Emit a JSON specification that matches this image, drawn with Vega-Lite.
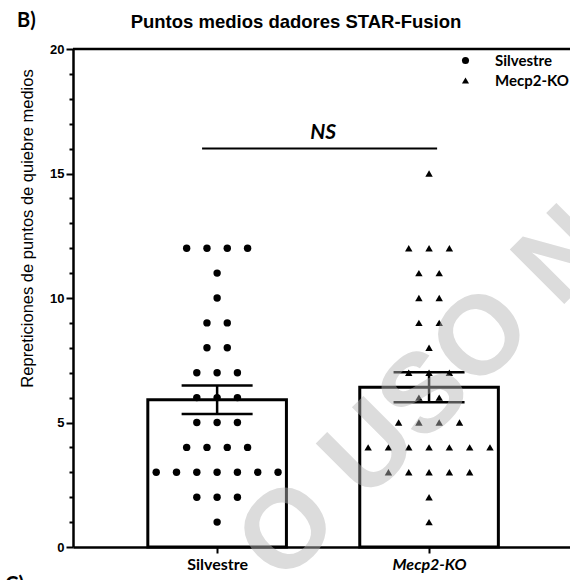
{
  "$schema": "https://vega.github.io/schema/vega-lite/v6.json",
  "autosize": {"type": "none"},
  "padding": {"left": 73, "top": 49, "right": 0, "bottom": 33},
  "width": 497,
  "height": 498,
  "background": "white",
  "config": {"view": {"stroke": null}},
  "datasets": {
    "puntos": [
    {"grupo": "Silvestre", "valor": 12}, {"grupo": "Silvestre", "valor": 12}, {"grupo": "Silvestre", "valor": 12}, {"grupo": "Silvestre", "valor": 12},
    {"grupo": "Silvestre", "valor": 11},
    {"grupo": "Silvestre", "valor": 10},
    {"grupo": "Silvestre", "valor": 9}, {"grupo": "Silvestre", "valor": 9},
    {"grupo": "Silvestre", "valor": 8}, {"grupo": "Silvestre", "valor": 8},
    {"grupo": "Silvestre", "valor": 7}, {"grupo": "Silvestre", "valor": 7}, {"grupo": "Silvestre", "valor": 7},
    {"grupo": "Silvestre", "valor": 6}, {"grupo": "Silvestre", "valor": 6}, {"grupo": "Silvestre", "valor": 6},
    {"grupo": "Silvestre", "valor": 5}, {"grupo": "Silvestre", "valor": 5}, {"grupo": "Silvestre", "valor": 5},
    {"grupo": "Silvestre", "valor": 4}, {"grupo": "Silvestre", "valor": 4}, {"grupo": "Silvestre", "valor": 4}, {"grupo": "Silvestre", "valor": 4},
    {"grupo": "Silvestre", "valor": 3}, {"grupo": "Silvestre", "valor": 3}, {"grupo": "Silvestre", "valor": 3}, {"grupo": "Silvestre", "valor": 3}, {"grupo": "Silvestre", "valor": 3}, {"grupo": "Silvestre", "valor": 3}, {"grupo": "Silvestre", "valor": 3},
    {"grupo": "Silvestre", "valor": 2}, {"grupo": "Silvestre", "valor": 2}, {"grupo": "Silvestre", "valor": 2},
    {"grupo": "Silvestre", "valor": 1},
    {"grupo": "Mecp2-KO", "valor": 15},
    {"grupo": "Mecp2-KO", "valor": 12}, {"grupo": "Mecp2-KO", "valor": 12}, {"grupo": "Mecp2-KO", "valor": 12},
    {"grupo": "Mecp2-KO", "valor": 11}, {"grupo": "Mecp2-KO", "valor": 11},
    {"grupo": "Mecp2-KO", "valor": 10}, {"grupo": "Mecp2-KO", "valor": 10},
    {"grupo": "Mecp2-KO", "valor": 9}, {"grupo": "Mecp2-KO", "valor": 9},
    {"grupo": "Mecp2-KO", "valor": 8},
    {"grupo": "Mecp2-KO", "valor": 7}, {"grupo": "Mecp2-KO", "valor": 7}, {"grupo": "Mecp2-KO", "valor": 7},
    {"grupo": "Mecp2-KO", "valor": 6}, {"grupo": "Mecp2-KO", "valor": 6},
    {"grupo": "Mecp2-KO", "valor": 5}, {"grupo": "Mecp2-KO", "valor": 5}, {"grupo": "Mecp2-KO", "valor": 5}, {"grupo": "Mecp2-KO", "valor": 5},
    {"grupo": "Mecp2-KO", "valor": 4}, {"grupo": "Mecp2-KO", "valor": 4}, {"grupo": "Mecp2-KO", "valor": 4}, {"grupo": "Mecp2-KO", "valor": 4}, {"grupo": "Mecp2-KO", "valor": 4}, {"grupo": "Mecp2-KO", "valor": 4}, {"grupo": "Mecp2-KO", "valor": 4},
    {"grupo": "Mecp2-KO", "valor": 3}, {"grupo": "Mecp2-KO", "valor": 3}, {"grupo": "Mecp2-KO", "valor": 3}, {"grupo": "Mecp2-KO", "valor": 3}, {"grupo": "Mecp2-KO", "valor": 3},
    {"grupo": "Mecp2-KO", "valor": 2},
    {"grupo": "Mecp2-KO", "valor": 1}
    ],
    "uno": [{"n": 1}]
  },
  "layer": [
    {
      "data": {"name": "puntos"},
      "transform": [
        {"calculate": "datum.grupo == 'Silvestre' ? 1 : 2", "as": "pos"},
        {"aggregate": [{"op": "mean", "field": "valor", "as": "media"}], "groupby": ["grupo", "pos"]},
        {"calculate": "datum.pos - 0.327", "as": "x0"},
        {"calculate": "datum.pos + 0.327", "as": "x1"}
      ],
      "mark": {"type": "rect", "fill": "white", "stroke": "black", "strokeWidth": 3},
      "encoding": {
        "x": {"field": "x0", "type": "quantitative", "scale": {"domain": [0.32, 2.665], "nice": false, "zero": false},
          "axis": {"values": [1, 2], "title": null, "grid": false,
            "labelExpr": "datum.value == 1 ? 'Silvestre' : 'Mecp2-KO'",
            "labelFont": "Lato", "labelFontSize": 16, "labelFontWeight": "bold", "labelColor": "black",
            "labelFontStyle": {"condition": {"test": "datum.value == 2", "value": "italic"}, "value": "normal"},
            "labelPadding": 3,
            "domainColor": "black", "domainWidth": 2.5, "tickColor": "black", "tickWidth": 2, "tickSize": 6}},
        "x2": {"field": "x1"},
        "y": {"field": "media", "type": "quantitative", "scale": {"domain": [0, 20], "nice": false},
          "axis": {"values": [0, 5, 10, 15, 20], "grid": false,
            "title": "Repreticiones de puntos de quiebre medios",
            "titleFont": "Liberation Sans", "titleFontSize": 16.5, "titleFontWeight": "normal", "titleColor": "black",
            "titleX": -38, "titleY": 179, "titleAngle": -90, "titleAlign": "center", "titleBaseline": "bottom",
            "labelFont": "Liberation Sans", "labelFontSize": 13, "labelFontWeight": "bold", "labelColor": "black", "labelPadding": 2,
            "domainColor": "black", "domainWidth": 2.5, "tickColor": "black", "tickWidth": 2, "tickSize": 7}},
        "y2": {"datum": 0}
      }
    },
    {
      "data": {"name": "puntos"},
      "transform": [
        {"calculate": "datum.grupo == 'Silvestre' ? 1 : 2", "as": "pos"},
        {"window": [{"op": "row_number", "as": "k"}, {"op": "count", "as": "n"}], "groupby": ["grupo", "valor"], "frame": [null, null]},
        {"calculate": "datum.pos + (datum.k - (datum.n + 1) / 2) * 0.0958", "as": "xj"}
      ],
      "mark": {"type": "point", "filled": true, "color": "black", "opacity": 1, "size": 55},
      "encoding": {
        "x": {"field": "xj", "type": "quantitative"},
        "y": {"field": "valor", "type": "quantitative",
          "axis": {"orient": "left", "values": [1,2,3,4,6,7,8,9,11,12,13,14,16,17,18,19], "labels": false, "domain": false, "title": null, "grid": false,
            "tickColor": "black", "tickWidth": 2, "tickSize": 4}},
        "shape": {"field": "grupo", "type": "nominal",
          "scale": {"domain": ["Silvestre", "Mecp2-KO"], "range": ["circle", "triangle-up"]},
          "legend": {"orient": "none", "legendX": 385, "legendY": 4, "title": null, "padding": 0,
            "labelFont": "Lato", "labelFontSize": 15, "labelFontWeight": "bold", "labelColor": "black", "labelOffset": 22,
            "symbolSize": 50, "symbolFillColor": "black", "symbolStrokeColor": "black", "rowPadding": 4,
            "encode": {"labels": {"update": {"fontStyle": {"signal": "datum.value == 'Mecp2-KO' ? 'italic' : 'normal'"}}}}}}
      }
    },
    {
      "data": {"name": "puntos"},
      "transform": [
        {"calculate": "datum.grupo == 'Silvestre' ? 1 : 2", "as": "pos"},
        {"aggregate": [{"op": "mean", "field": "valor", "as": "media"}, {"op": "stderr", "field": "valor", "as": "ee"}], "groupby": ["grupo", "pos"]},
        {"calculate": "datum.media - datum.ee", "as": "lo"},
        {"calculate": "datum.media + datum.ee", "as": "hi"}
      ],
      "mark": {"type": "rule", "color": "black", "strokeWidth": 2.5},
      "encoding": {
        "x": {"field": "pos", "type": "quantitative"},
        "y": {"field": "lo", "type": "quantitative", "axis": null},
        "y2": {"field": "hi"}
      }
    },
    {
      "data": {"name": "puntos"},
      "transform": [
        {"calculate": "datum.grupo == 'Silvestre' ? 1 : 2", "as": "pos"},
        {"aggregate": [{"op": "mean", "field": "valor", "as": "media"}, {"op": "stderr", "field": "valor", "as": "ee"}], "groupby": ["grupo", "pos"]},
        {"fold": ["media", "ee"], "as": ["lado", "dummy"]},
        {"calculate": "datum.lado == 'media' ? datum.media - datum.ee : datum.media + datum.ee", "as": "yc"},
        {"calculate": "datum.pos - 0.1675", "as": "c0"},
        {"calculate": "datum.pos + 0.1675", "as": "c1"}
      ],
      "mark": {"type": "rule", "color": "black", "strokeWidth": 2.5},
      "encoding": {
        "x": {"field": "c0", "type": "quantitative"},
        "x2": {"field": "c1"},
        "y": {"field": "yc", "type": "quantitative", "axis": null}
      }
    },
    {
      "data": {"name": "uno"},
      "mark": {"type": "rule", "color": "black", "strokeWidth": 2.5},
      "encoding": {"y": {"datum": 20, "axis": null}}
    },
    {
      "data": {"name": "uno"},
      "mark": {"type": "rule", "color": "black", "strokeWidth": 2},
      "encoding": {"x": {"datum": 0.929}, "x2": {"datum": 2.038}, "y": {"datum": 16, "axis": null}}
    },
    {
      "data": {"name": "uno"},
      "mark": {"type": "text", "text": "NS", "font": "Lato", "fontSize": 21, "fontWeight": "bold", "fontStyle": "italic", "color": "black", "baseline": "alphabetic", "align": "center"},
      "encoding": {"x": {"datum": 1.5}, "y": {"datum": 16.38, "axis": null}}
    },
    {
      "data": {"name": "uno"},
      "mark": {"type": "text", "text": "Puntos medios dadores STAR-Fusion", "font": "Liberation Sans", "fontSize": 18.5, "fontWeight": "bold", "color": "black", "baseline": "alphabetic", "align": "center"},
      "encoding": {"x": {"datum": 1.372}, "y": {"datum": 20.83, "axis": null}}
    },
    {
      "data": {"name": "uno"},
      "mark": {"type": "text", "text": "B)", "font": "Lato", "fontSize": 20, "fontWeight": "bold", "color": "black", "baseline": "alphabetic", "align": "left"},
      "encoding": {"x": {"datum": 0.056}, "y": {"datum": 20.9, "axis": null}}
    },
    {
      "data": {"name": "uno"},
      "mark": {"type": "text", "text": "C)", "font": "Lato", "fontSize": 20, "fontWeight": "bold", "color": "black", "baseline": "alphabetic", "align": "left"},
      "encoding": {"x": {"datum": 0.0}, "y": {"datum": -1.75, "axis": null}}
    },
    {
      "data": {"name": "uno"},
      "mark": {"type": "text", "text": "O USO N", "font": "Liberation Sans", "fontSize": 112, "fontWeight": "bold", "color": "#b5b5b5", "opacity": 0.47, "angle": -45, "baseline": "middle", "align": "center"},
      "encoding": {"x": {"datum": 1.981}, "y": {"datum": 6.1, "axis": null}}
    }
  ],
  "resolve": {"axis": {"y": "independent"}}
}
